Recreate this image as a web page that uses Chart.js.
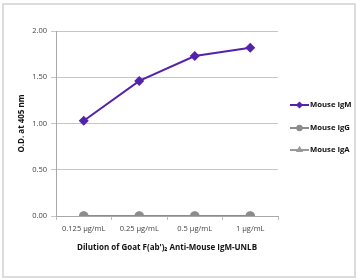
<!DOCTYPE html>
<html>
<head>
<meta charset="utf-8">
<script src="https://cdn.jsdelivr.net/npm/chart.js@4"></script>
<style>
  html, body { margin: 0; padding: 0; background: #fff; }
  #wrap { position: relative; width: 360px; height: 280px; overflow: hidden; }
  #frame { position: absolute; left: 2px; top: 3px; width: 350px; height: 271px; border: 2px solid #dcdcdc; }
  canvas { position: absolute; left: 0; top: 0; }
</style>
</head>
<body>
<div id="wrap">
  <div id="frame"></div>
  <canvas id="c" width="360" height="280"></canvas>
</div>
<script>
const categories = ["0.125 µg/mL", "0.25 µg/mL", "0.5 µg/mL", "1 µg/mL"];
const seriesNames = ["Mouse IgM", "Mouse IgG", "Mouse IgA"];
const igm = [1.03, 1.46, 1.73, 1.82];
const igg = [0.0, 0.0, 0.0, 0.0];
const iga = [0.0, 0.0, 0.0, 0.0];
const yTicks = [0, 0.5, 1.0, 1.5, 2.0];

const FONT = "'Open Sans', 'Liberation Sans', sans-serif";

const colors = ["#5522aa", "#8c8c8c", "#9a9a9a"];
const pointStyles = ["rectRot", "circle", "triangle"];

const legendPlugin = {
  id: 'sideLegend',
  afterDraw(chart) {
    const ctx = chart.ctx;
    const ys = [105, 128, 150];
    ctx.save();
    chart.data.datasets.forEach((ds, i) => {
      const y = ys[i];
      const x0 = 290, x1 = 309;
      ctx.strokeStyle = ds.borderColor;
      ctx.lineWidth = 2;
      ctx.beginPath(); ctx.moveTo(x0, y); ctx.lineTo(x1, y); ctx.stroke();
      ctx.fillStyle = ds.pointBackgroundColor;
      ctx.strokeStyle = ds.pointBackgroundColor;
      Chart.helpers.drawPoint(ctx, {pointStyle: ds.pointStyle, radius: 2.2, borderWidth: 1}, (x0 + x1) / 2, y);
      ctx.fillStyle = "#111";
      ctx.font = "bold 7.7px " + FONT;
      ctx.textBaseline = "middle";
      ctx.textAlign = "left";
      ctx.fillText(ds.label, 310, y);
    });
    ctx.restore();
  }
};

new Chart(document.getElementById('c'), {
  type: 'line',
  data: {
    labels: categories,
    datasets: [
      { label: seriesNames[0], data: igm, borderColor: colors[0], backgroundColor: colors[0],
        pointBackgroundColor: colors[0], pointBorderColor: colors[0], pointStyle: pointStyles[0],
        pointRadius: 3.6, borderWidth: 2 },
      { label: seriesNames[1], data: igg, borderColor: colors[1], backgroundColor: colors[1],
        pointBackgroundColor: colors[1], pointBorderColor: colors[1], pointStyle: pointStyles[1],
        pointRadius: 3.8, borderWidth: 2 },
      { label: seriesNames[2], data: iga, borderColor: colors[2], backgroundColor: colors[2],
        pointBackgroundColor: colors[2], pointBorderColor: colors[2], pointStyle: pointStyles[2],
        pointRadius: 3.2, borderWidth: 2 }
    ]
  },
  options: {
    responsive: false,
    animation: false,
    devicePixelRatio: 1,
    layout: { padding: { left: 13, top: 31, right: 82, bottom: 23 } },
    plugins: { legend: { display: false }, tooltip: { enabled: false } },
    scales: {
      x: {
        offset: true,
        grid: { display: true, drawOnChartArea: false, offset: true, tickLength: 4, color: '#bdbdbd' },
        border: { color: '#a8a8a8', width: 1 },
        ticks: { color: '#444', font: { family: FONT, size: 7.5 }, padding: 4, maxRotation: 0, autoSkip: false },
        title: { display: true, text: "Dilution of Goat F(ab')₂ Anti-Mouse IgM-UNLB", color: '#111',
                 font: { family: FONT, size: 8, weight: 'bold' }, padding: { top: 4, bottom: 4 } },
        afterFit(s) { s.height = 41; }
      },
      y: {
        min: 0, max: 2,
        afterBuildTicks(s) { s.ticks = yTicks.map(v => ({ value: v })); },
        grid: { color: '#c6c6c6', tickLength: 5, lineWidth: 1 },
        border: { color: '#a8a8a8', width: 1 },
        ticks: { color: '#444', font: { family: FONT, size: 7.5 }, padding: 4,
                 callback: v => Number(v).toFixed(2) },
        title: { display: true, text: "O.D. at 405 nm", color: '#111',
                 font: { family: FONT, size: 8, weight: 'bold' }, padding: { top: 4, bottom: 4 } },
        afterFit(s) { s.width = 43; }
      }
    }
  },
  plugins: [legendPlugin]
});
</script>
</body>
</html>
